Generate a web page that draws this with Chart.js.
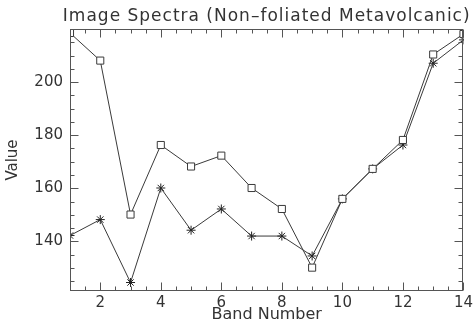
<!DOCTYPE html>
<html>
<head>
<meta charset="utf-8">
<script src="https://cdn.jsdelivr.net/npm/chart.js@4.4.1/dist/chart.umd.min.js"></script>
<style>
html,body{margin:0;padding:0;background:#fff;}
#wrap{width:476px;height:328px;position:relative;}
</style>
</head>
<body>
<div id="wrap"><canvas id="c" width="476" height="328"></canvas></div>
<script>
// ---- data ----
const bands = [1,2,3,4,5,6,7,8,9,10,11,12,13,14];
const squareValues = [218.5,208.1,150.1,176.3,168.2,172.3,160.1,152.2,130.1,156.0,167.3,178.2,210.4,218.1];
const starValues   = [142.2,148.2,124.5,160.1,144.2,152.2,142.0,142.0,134.5,156.0,167.3,176.3,207.1,215.9];
const xTickLabels = [2,4,6,8,10,12,14];
const yTickLabels = [140,160,180,200];
const xMinorStep = 0.5;
const yMinorStep = 5;
const titleText = 'Image Spectra (Non\u2013foliated Metavolcanic)';
const xTitle = 'Band Number';
const yTitle = 'Value';

const FONT = 'DejaVu Sans';
const INK = '#333333';
const AXIS = '#555555';

const boxTicks = {
  id: 'boxTicks',
  afterDatasetsDraw(chart) {
    const ctx = chart.ctx, a = chart.chartArea;
    const xs = chart.scales.x, ys = chart.scales.y;
    ctx.save();
    ctx.strokeStyle = AXIS;
    ctx.lineWidth = 1;
    const L = Math.round(a.left)+0.5, R = Math.round(a.right)-0.5;
    const T = Math.round(a.top)+0.5, B = Math.round(a.bottom)-0.5;
    ctx.strokeRect(L, T, R-L, B-T);
    ctx.beginPath();
    for (let v = xs.min; v <= xs.max + 1e-9; v += xMinorStep) {
      const major = xTickLabels.includes(v);
      const len = major ? 8 : 4;
      const px = Math.round(xs.getPixelForValue(v)) + 0.5;
      ctx.moveTo(px, B); ctx.lineTo(px, B - len);
      ctx.moveTo(px, T); ctx.lineTo(px, T + len);
    }
    const y0 = Math.ceil(ys.min / yMinorStep) * yMinorStep;
    for (let v = y0; v <= ys.max + 1e-9; v += yMinorStep) {
      const major = yTickLabels.includes(v);
      const len = major ? 8 : 4;
      const py = Math.round(ys.getPixelForValue(v)) + 0.5;
      ctx.moveTo(L, py); ctx.lineTo(L + len, py);
      ctx.moveTo(R, py); ctx.lineTo(R - len, py);
    }
    ctx.stroke();
    ctx.restore();
  },
  afterDraw(chart) {
    const ctx = chart.ctx, a = chart.chartArea;
    ctx.save();
    ctx.fillStyle = INK;
    ctx.font = '17px "' + FONT + '"';
    try { ctx.letterSpacing = '1px'; } catch (e) {}
    ctx.textAlign = 'center';
    ctx.textBaseline = 'alphabetic';
    ctx.fillText(titleText, (a.left + a.right) / 2, 20.5);
    ctx.restore();
  }
};

new Chart(document.getElementById('c'), {
  type: 'line',
  data: {
    datasets: [
      {
        label: 'squares',
        data: bands.map((b,i)=>({x:b, y:squareValues[i]})),
        borderColor: '#3a3a3a',
        borderWidth: 1,
        pointStyle: 'rect',
        pointRadius: 5,
        pointBorderWidth: 1,
        pointBorderColor: '#3a3a3a',
        pointBackgroundColor: '#ffffff',
        tension: 0
      },
      {
        label: 'stars',
        data: bands.map((b,i)=>({x:b, y:starValues[i]})),
        borderColor: '#3a3a3a',
        borderWidth: 1,
        pointStyle: 'star',
        pointRadius: 4.5,
        pointBorderWidth: 1,
        pointBorderColor: '#222222',
        pointBackgroundColor: '#222222',
        tension: 0
      }
    ]
  },
  options: {
    responsive: false,
    animation: false,
    devicePixelRatio: 1,
    layout: { padding: { left: 4, right: 10, top: 29, bottom: 0 } },
    plugins: {
      legend: { display: false },
      tooltip: { enabled: false },
      title: { display: false }
    },
    scales: {
      x: {
        type: 'linear',
        min: 1, max: 14,
        afterBuildTicks: s => { s.ticks = xTickLabels.map(v=>({value:v})); },
        grid: { display: false, drawTicks: false },
        border: { display: false },
        ticks: { color: INK, font: { family: FONT, size: 15 }, padding: 3, maxRotation: 0, autoSkip: false },
        title: { display: true, text: xTitle, color: INK, font: { family: FONT, size: 16 }, padding: { top: 0, bottom: 4 } },
        afterFit: s => { s.height = 37; }
      },
      y: {
        type: 'linear',
        min: 121.3, max: 220,
        afterBuildTicks: s => { s.ticks = yTickLabels.map(v=>({value:v})); },
        grid: { display: false, drawTicks: false },
        border: { display: false },
        ticks: { color: INK, font: { family: FONT, size: 15 }, padding: 7 },
        title: { display: true, text: yTitle, color: INK, font: { family: FONT, size: 15 }, padding: { top: 0, bottom: 4 } },
        afterFit: s => { s.width = 66; }
      }
    }
  },
  plugins: [boxTicks]
});
</script>
</body>
</html>
